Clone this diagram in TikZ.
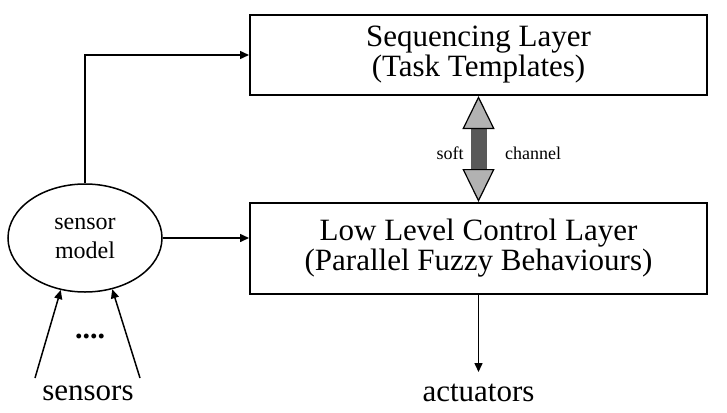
\documentclass[tikz,border=0pt]{standalone}
\usepackage{fontspec}
\setmainfont{Liberation Serif}
\usetikzlibrary{arrows.meta,shapes.geometric,positioning}

\begin{document}
\begin{tikzpicture}[x=0.5pt,y=-0.5pt,
			layerbox/.style={rectangle,draw,line width=1pt,minimum width=228.5pt,align=center,font=\fontsize{15.5}{15}\selectfont},
			endtext/.style={font=\fontsize{15.5}{16}\selectfont},
			smalltext/.style={font=\fontsize{9}{10}\selectfont},
			link/.style={line width=0.75pt,-{Triangle[length=4.5pt,width=4pt]}},
			softtip/.tip={Triangle[length=16.5pt,width=16pt,line width=0.6pt,color=black,fill=black!30]},]
		\useasboundingbox (0,0) rectangle (727,412);
		\node[layerbox,minimum height=40pt] (seq) at (478.5,55) {Sequencing Layer\\(Task Templates)};
		\node[layerbox,minimum height=45.5pt] (low) at (478.5,248.5) {Low Level Control Layer\\(Parallel Fuzzy Behaviours)};
		\node[ellipse,draw,line width=0.75pt,minimum width=77pt,minimum height=54pt,inner sep=0pt,
			align=center,font=\fontsize{12}{14.5}\selectfont] (model) at (85,238) {sensor\\model};
		\node[endtext] (sens) at (88,393) {sensors};
		\node[endtext] (act) at (478.5,393) {actuators};
		\node[font=\fontsize{15}{15}\bfseries\selectfont] (dots) at (90,336) {....};
		\node[smalltext] (soft) at (450,153) {soft};
		\node[smalltext] (chan) at (533,153) {channel};
		\coordinate (s1) at (35,378);
		\coordinate (s2) at (140,378);
		\coordinate (actend) at (478.5,372);
		\draw[link] (model.north) |- (seq.west);
		\draw[link] (model.east) -- (model.east -| low.west);
		\draw[link] (low.south) -- (actend);
		\draw[link] (s1) -- (model.245);
		\draw[link] (s2) -- (model.298);
		\draw[line width=8pt,draw=black!65,softtip-softtip] (seq.south) -- (low.north);
	\end{tikzpicture}
\end{document}
